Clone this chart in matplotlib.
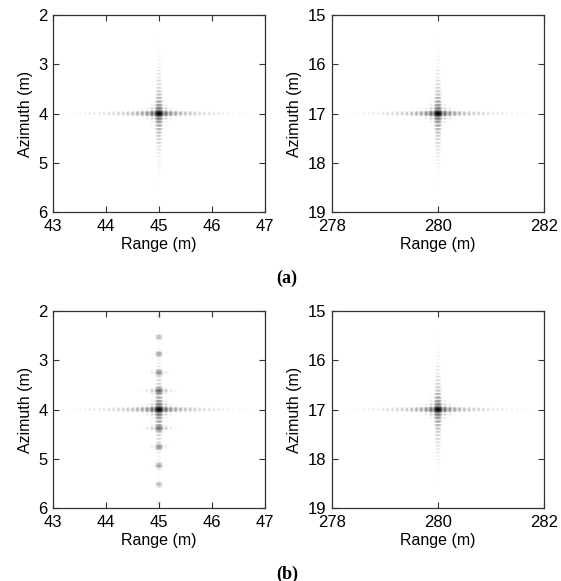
import numpy as np
import matplotlib
matplotlib.use("Agg")
import matplotlib.pyplot as plt

plt.rcParams['font.family'] = ['Liberation Sans', 'DejaVu Sans']

# ---- data ----
panel_tags = ["(a)", "(b)"]
target_range = [45.0, 280.0]          # m (left column, right column)
target_azimuth = [4.0, 17.0]          # m
x_limits = [(43, 47), (278, 282)]
y_limits = [(6, 2), (19, 15)]
x_ticks = [[43, 44, 45, 46, 47], [278, 280, 282]]
y_ticks = [[2, 3, 4, 5, 6], [15, 16, 17, 18, 19]]
range_resolution = 0.09               # m, sinc width
azimuth_resolution = 0.07             # m
sample_step = 0.019                   # m, image pixel
dynamic_range_db = 38
display_gamma = 1.25
# paired echoes in panel (b)-left: azimuth positions and levels (dB)
ghost_azimuth = [2.10, 2.53, 2.87, 3.25, 3.62, 4.38, 4.76, 5.14, 5.52, 5.90]
ghost_level_db = [-33, -26, -23, -20, -15, -16, -20, -23, -26, -33]
ghost_spread = 0.05                   # m, azimuth spread of each echo


def psf(x, y, x0, y0):
    return np.abs(np.sinc((x - x0) / range_resolution)) * \
        np.abs(np.sinc((y - y0) / azimuth_resolution))


def echo(x, y, x0, y0, amp):
    return amp * np.abs(np.sinc((x - x0) / range_resolution)) * \
        np.exp(-((y - y0) / ghost_spread) ** 2)


def make_image(col, with_ghosts):
    x0, y0 = target_range[col], target_azimuth[col]
    xl, yl = x_limits[col], y_limits[col]
    nx = int(round((x0 - xl[0]) / sample_step))
    ny = int(round((y0 - min(yl)) / sample_step))
    xs = x0 + sample_step * np.arange(-nx, nx + 1)
    ys = y0 + sample_step * np.arange(-ny, ny + 1)
    X, Y = np.meshgrid(xs, ys)
    img = psf(X, Y, x0, y0)
    if with_ghosts:
        for ga, gl in zip(ghost_azimuth, ghost_level_db):
            img = img + echo(X, Y, x0, ga - target_azimuth[0] + y0,
                             10 ** (gl / 20))
    db = 20 * np.log10(img / img.max() + 1e-12)
    v = np.clip((db + dynamic_range_db) / dynamic_range_db, 0, 1) ** display_gamma
    ext = (xs[0] - sample_step / 2, xs[-1] + sample_step / 2,
           ys[-1] + sample_step / 2, ys[0] - sample_step / 2)
    return v, ext


fig = plt.figure(figsize=(5.61, 5.81), dpi=100)
W, H = 561, 581
lefts = [53, 332]
axw = 212
tops = [15, 311]
axh = 197

for row in range(2):
    for col in range(2):
        ax = fig.add_axes([lefts[col] / W, 1 - (tops[row] + axh) / H,
                           axw / W, axh / H])
        v, ext = make_image(col, with_ghosts=(row == 1 and col == 0))
        ax.imshow(v, cmap='gray_r', vmin=0, vmax=1,
                  extent=ext, aspect='auto', interpolation='antialiased')
        ax.set_xlim(*x_limits[col])
        ax.set_ylim(*y_limits[col])
        ax.set_xticks(x_ticks[col])
        ax.set_yticks(y_ticks[col])
        ax.tick_params(direction='in', length=4, width=0.8, top=True,
                       right=True, labelsize=12, color='#333333')
        ax.tick_params(axis='x', pad=5)
        ax.tick_params(axis='y', pad=4)
        for s in ax.spines.values():
            s.set_linewidth(0.9)
            s.set_color('#333333')
        ax.set_xlabel('Range (m)', fontsize=11.5, labelpad=2)
        ax.set_ylabel('Azimuth (m)', fontsize=11.5, labelpad=4)

fig.text(287 / W, 1 - 278 / H, panel_tags[0], ha='center', va='center',
         fontsize=13, fontweight='bold', family=['Liberation Serif'])
fig.text(287 / W, 1 - 574 / H, panel_tags[1], ha='center', va='center',
         fontsize=13, fontweight='bold', family=['Liberation Serif'])

fig.savefig('out.png', dpi=100)
